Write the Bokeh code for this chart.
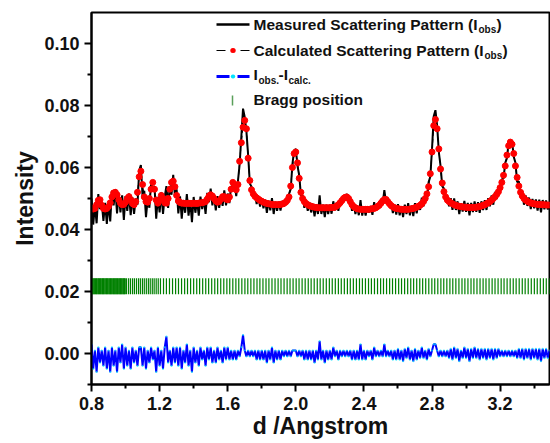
import numpy as np
from bokeh.plotting import figure
from bokeh.models import (Label, Arrow, FixedTicker, NumeralTickFormatter, Range1d)
from bokeh.embed import file_html
from bokeh.resources import INLINE

# ---------------- data ----------------
d_start, d_step = 0.80, 0.01

calc = [
 0.0470,0.0466,0.0468,0.0480,0.0494,0.0496,0.0478,0.0468,0.0466,0.0468,
 0.0474,0.0486,0.0505,0.0518,0.0520,0.0512,0.0496,0.0485,0.0480,0.0481,
 0.0488,0.0500,0.0506,0.0496,0.0484,0.0480,0.0490,0.0520,0.0570,0.0588,
 0.0545,0.0505,0.0490,0.0488,0.0500,0.0530,0.0552,0.0530,0.0495,0.0485,
 0.0495,0.0510,0.0500,0.0486,0.0485,0.0500,0.0530,0.0552,0.0556,0.0538,
 0.0510,0.0492,0.0487,0.0485,0.0485,0.0484,0.0484,0.0485,0.0484,0.0484,
 0.0485,0.0484,0.0484,0.0485,0.0486,0.0486,0.0488,0.0490,0.0498,0.0508,
 0.0512,0.0508,0.0500,0.0492,0.0488,0.0490,0.0498,0.0506,0.0506,0.0498,
 0.0496,0.0505,0.0530,0.0552,0.0545,0.0528,0.0545,0.0620,0.0680,0.0730,
 0.0752,0.0725,0.0630,0.0558,0.0528,0.0515,0.0507,0.0502,0.0498,0.0494,
 0.0491,0.0488,0.0486,0.0484,0.0483,0.0482,0.0481,0.0480,0.0480,0.0480,
 0.0480,0.0481,0.0482,0.0484,0.0488,0.0494,0.0505,0.0540,0.0600,0.0645,
 0.0650,0.0615,0.0565,0.0520,0.0500,0.0490,0.0484,0.0480,0.0477,0.0475,
 0.0473,0.0472,0.0471,0.0470,0.0470,0.0470,0.0470,0.0470,0.0470,0.0470,
 0.0470,0.0471,0.0471,0.0472,0.0476,0.0480,0.0486,0.0493,0.0500,0.0504,
 0.0505,0.0500,0.0490,0.0480,0.0474,0.0470,0.0467,0.0466,0.0465,0.0465,
 0.0465,0.0465,0.0465,0.0465,0.0466,0.0467,0.0468,0.0470,0.0474,0.0478,
 0.0485,0.0492,0.0497,0.0497,0.0490,0.0483,0.0477,0.0473,0.0470,0.0468,
 0.0467,0.0466,0.0465,0.0465,0.0465,0.0465,0.0465,0.0466,0.0467,0.0468,
 0.0470,0.0472,0.0475,0.0478,0.0483,0.0490,0.0500,0.0515,0.0538,0.0580,
 0.0650,0.0735,0.0755,0.0725,0.0660,0.0595,0.0550,0.0522,0.0505,0.0495,
 0.0490,0.0486,0.0483,0.0480,0.0478,0.0476,0.0475,0.0474,0.0473,0.0472,
 0.0472,0.0471,0.0471,0.0471,0.0471,0.0471,0.0472,0.0473,0.0474,0.0476,
 0.0478,0.0480,0.0483,0.0486,0.0490,0.0495,0.0500,0.0506,0.0513,0.0522,
 0.0535,0.0552,0.0575,0.0605,0.0640,0.0670,0.0682,0.0675,0.0645,0.0605,
 0.0568,0.0540,0.0520,0.0508,0.0500,0.0495,0.0491,0.0488,0.0486,0.0484,
 0.0483,0.0482,0.0481,0.0481,0.0480,0.0480,0.0480,0.0479,0.0479,0.0479,
]

obs = [
 0.0500,0.0416,0.0478,0.0420,0.0514,0.0466,0.0488,0.0428,0.0486,0.0418,
 0.0484,0.0426,0.0525,0.0478,0.0530,0.0452,0.0516,0.0455,0.0510,0.0431,
 0.0508,0.0460,0.0516,0.0446,0.0504,0.0450,0.0500,0.0480,0.0590,0.0608,
 0.0505,0.0525,0.0440,0.0498,0.0470,0.0550,0.0532,0.0540,0.0435,0.0505,
 0.0455,0.0520,0.0450,0.0506,0.0540,0.0470,0.0540,0.0512,0.0576,0.0508,
 0.0530,0.0452,0.0507,0.0435,0.0495,0.0454,0.0514,0.0445,0.0494,0.0424,
 0.0505,0.0454,0.0494,0.0445,0.0506,0.0466,0.0498,0.0450,0.0518,0.0488,
 0.0532,0.0478,0.0510,0.0462,0.0508,0.0470,0.0508,0.0476,0.0526,0.0478,
 0.0516,0.0485,0.0540,0.0532,0.0555,0.0508,0.0555,0.0610,0.0700,0.0790,
 0.0762,0.0715,0.0640,0.0548,0.0538,0.0505,0.0517,0.0482,0.0508,0.0474,
 0.0501,0.0468,0.0496,0.0454,0.0493,0.0462,0.0501,0.0450,0.0490,0.0460,
 0.0490,0.0461,0.0492,0.0474,0.0498,0.0484,0.0515,0.0530,0.0610,0.0655,
 0.0660,0.0605,0.0575,0.0510,0.0510,0.0470,0.0494,0.0460,0.0487,0.0455,
 0.0483,0.0442,0.0481,0.0450,0.0510,0.0450,0.0480,0.0440,0.0480,0.0450,
 0.0480,0.0451,0.0491,0.0462,0.0486,0.0460,0.0496,0.0483,0.0510,0.0494,
 0.0515,0.0490,0.0500,0.0460,0.0484,0.0450,0.0477,0.0446,0.0495,0.0445,
 0.0475,0.0445,0.0475,0.0455,0.0476,0.0447,0.0488,0.0460,0.0484,0.0468,
 0.0495,0.0482,0.0527,0.0487,0.0500,0.0473,0.0487,0.0453,0.0480,0.0448,
 0.0482,0.0446,0.0475,0.0440,0.0480,0.0450,0.0485,0.0446,0.0477,0.0443,
 0.0485,0.0452,0.0485,0.0463,0.0503,0.0475,0.0510,0.0495,0.0553,0.0570,
 0.0660,0.0765,0.0785,0.0735,0.0650,0.0605,0.0540,0.0532,0.0495,0.0505,
 0.0475,0.0501,0.0463,0.0500,0.0463,0.0491,0.0450,0.0484,0.0458,0.0492,
 0.0457,0.0486,0.0446,0.0486,0.0456,0.0491,0.0457,0.0488,0.0454,0.0491,
 0.0463,0.0495,0.0463,0.0501,0.0475,0.0510,0.0480,0.0521,0.0498,0.0537,
 0.0525,0.0562,0.0565,0.0615,0.0630,0.0680,0.0672,0.0685,0.0635,0.0615,
 0.0553,0.0555,0.0505,0.0523,0.0480,0.0510,0.0476,0.0503,0.0466,0.0499,
 0.0468,0.0497,0.0461,0.0496,0.0455,0.0495,0.0465,0.0494,0.0464,0.0489,
]

bragg_d = [
 0.801,0.806,0.810,0.815,0.819,0.824,0.829,0.833,0.838,0.842,0.847,0.852,0.856,0.861,
 0.865,0.870,0.874,0.879,0.884,0.888,0.893,0.897,0.902,0.907,0.911,0.916,0.920,0.925,
 0.930,0.934,0.939,0.943,0.948,0.952,0.957,0.962,0.966,0.971,0.975,0.980,0.985,0.989,
 0.994,0.998,
 1.006,1.018,1.029,1.041,1.052,1.064,1.076,1.087,1.099,1.110,1.122,1.134,1.145,1.157,
 1.168,1.180,1.192,
 1.205,1.223,1.240,1.258,1.276,1.294,1.311,1.329,1.347,1.364,1.382,1.400,1.418,1.435,
 1.453,1.471,1.488,1.506,1.524,1.541,1.559,1.577,1.595,1.612,1.630,1.648,1.665,1.683,
 1.701,1.718,1.736,1.754,1.772,1.789,1.807,1.825,1.842,1.860,1.878,1.896,1.913,1.931,
 1.949,1.966,1.984,2.002,2.019,2.037,2.055,2.073,2.090,2.108,2.126,2.143,2.161,2.179,
 2.197,2.214,2.232,2.250,2.267,2.285,2.303,2.320,2.338,2.356,2.374,2.391,2.409,2.427,
 2.444,2.462,2.480,2.498,2.515,2.533,2.551,2.568,2.586,2.604,2.621,2.639,2.657,2.675,
 2.692,2.710,2.728,2.745,2.763,2.781,2.799,2.816,2.834,2.852,2.869,2.887,2.905,2.922,
 2.940,2.958,2.976,2.993,3.011,3.029,3.046,3.064,3.082,3.100,3.117,3.135,3.153,3.170,
 3.188,3.206,3.223,3.241,3.259,3.277,3.294,3.312,3.330,3.347,3.365,3.383,3.401,3.418,
 3.436,3.454,3.471,3.489,
]
bragg_level = 0.0217

x_ticks = [0.8, 1.2, 1.6, 2.0, 2.4, 2.8, 3.2]
x_minor = [1.0, 1.4, 1.8, 2.2, 2.6, 3.0, 3.4]
y_ticks = [0.00, 0.02, 0.04, 0.06, 0.08, 0.10]
y_minor = [-0.01, 0.01, 0.03, 0.05, 0.07, 0.09]

d = np.round(d_start + d_step * np.arange(len(calc)), 2)
calc_a = np.array(calc)
obs_a = np.array(obs)
diff = obs_a - calc_a

FONT = "Liberation Sans"
INK = "#111111"

p = figure(width=550, height=443, output_backend="svg", toolbar_location=None,
           x_range=Range1d(0.8, 3.49), y_range=Range1d(-0.01, 0.11),
           min_border_left=91, min_border_right=1, min_border_top=12, min_border_bottom=59)
p.grid.visible = False
p.outline_line_color = "black"
p.outline_line_width = 2

# Bragg positions
p.scatter(bragg_d, [bragg_level] * len(bragg_d), marker="dash", angle=np.pi / 2,
          size=16, line_color="#008000", line_width=1.2)
# difference curve
p.line(d, diff, line_color="#0000ff", line_width=2)
p.scatter(d, diff, marker="circle", size=2, fill_color="#00e5ff", line_color=None, alpha=0.7)
# observed
p.line(d, obs_a, line_color="black", line_width=2)
# calculated
p.line(d, calc_a, line_color="black", line_width=1, line_dash="4 3")
p.scatter(d, calc_a, marker="circle", size=6, fill_color="#ff0000", line_color="#ff0000")

# axes
for ax, ticks, minor, fmt in ((p.xaxis[0], x_ticks, x_minor, "0.0"), (p.yaxis[0], y_ticks, y_minor, "0.00")):
    ax.ticker = FixedTicker(ticks=ticks, minor_ticks=minor)
    ax.formatter = NumeralTickFormatter(format=fmt)
    ax.axis_line_width = 2
    ax.major_tick_line_width = 2
    ax.minor_tick_line_width = 2
    ax.major_tick_out = 7
    ax.major_tick_in = 0
    ax.minor_tick_out = 4
    ax.minor_tick_in = 0
    ax.major_label_text_font = FONT
    ax.major_label_text_font_style = "bold"
    ax.major_label_text_font_size = "18px"
    ax.major_label_text_color = INK
    ax.axis_label_text_font = FONT
    ax.axis_label_text_font_style = "bold"
    ax.axis_label_text_font_size = "23px"
    ax.axis_label_text_color = INK
p.xaxis.axis_label = "d /Angstrom"
p.yaxis.axis_label = "Intensity"
p.xaxis.major_label_standoff = 5
p.xaxis.axis_label_standoff = 0
p.yaxis.major_label_standoff = 5
p.yaxis.axis_label_standoff = 3

# ---------------- legend (drawn in frame pixels) ----------------
def seg(x0, y0, x1, y1, color, width, dash="solid", cap="butt"):
    p.add_layout(Arrow(end=None, x_start=x0, y_start=y0, x_end=x1, y_end=y1,
                       start_units="screen", end_units="screen",
                       line_color=color, line_width=width, line_dash=dash, line_cap=cap))

def lab(text, x, y, size):
    p.add_layout(Label(x=x, y=y, x_units="screen", y_units="screen", text=text,
                       text_font=FONT, text_font_style="bold", text_font_size=size,
                       text_color=INK, text_baseline="alphabetic", text_align="left"))

# samples
seg(125, 360, 158, 360, "black", 2.5)
seg(125, 334, 158, 334, "black", 1, "9 15")
seg(141.3, 334, 141.7, 334, "#ff0000", 5, cap="round")
seg(125, 308, 158, 308, "#0000ff", 3, "13 8")
seg(141.3, 308, 141.7, 308, "#00e5ff", 4, cap="round")
seg(141, 279, 141, 289, "#5a9f5a", 1.5)

BIG, SMALL = "15.5px", "10px"
lab("Measured Scattering Pattern (I", 162, 360, BIG)
lab("obs", 387, 355, SMALL)
lab(")", 405, 360, BIG)
lab("Calculated Scattering Pattern (I", 162, 334, BIG)
lab("obs", 393, 329, SMALL)
lab(")", 411, 334, BIG)
lab("I", 162, 310, BIG)
lab("obs.", 167, 304, SMALL)
lab("-I", 187, 310, BIG)
lab("calc.", 197, 304, SMALL)
lab("Bragg position", 162, 285, BIG)

open("out.html", "w").write(file_html(p, INLINE))
